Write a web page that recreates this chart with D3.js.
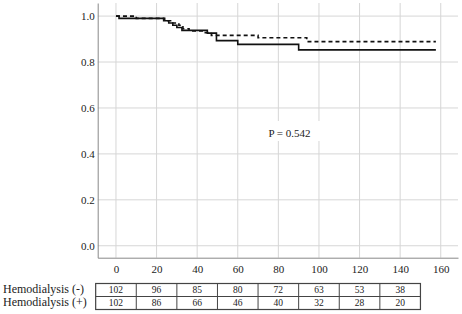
<!DOCTYPE html>
<html>
<head>
<meta charset="utf-8">
<script src="https://cdn.jsdelivr.net/npm/d3@7"></script>
<style>
  body { margin: 0; background: #fff; }
  svg text { font-family: "Times New Roman", "Liberation Serif", "DejaVu Serif", serif !important; fill: #222; }
</style>
</head>
<body>
<div id="chart"></div>
<script>
// Kaplan-Meier steps
const solidTimes = [0, 1.5, 23.5, 26, 28, 30, 32.5, 45, 49.5, 60, 90, 157.6];
const solidSurv  = [1.0, 0.990, 0.980, 0.970, 0.960, 0.950, 0.938, 0.926, 0.893, 0.877, 0.853, 0.853];
const dashedTimes = [0, 10, 24, 28, 31, 33, 36, 44, 47, 70, 94, 157.6];
const dashedSurv  = [1.0, 0.990, 0.980, 0.970, 0.960, 0.945, 0.935, 0.928, 0.916, 0.906, 0.889, 0.889];

const xTicks = [0, 20, 40, 60, 80, 100, 120, 140, 160];
const yTicks = [0, 0.2, 0.4, 0.6, 0.8, 1.0];

// numbers at risk
const riskTimes = [0, 20, 40, 60, 80, 100, 120, 140];
const riskLabels = ['Hemodialysis (-)', 'Hemodialysis (+)'];
const riskMinus = [102, 96, 85, 80, 72, 63, 53, 38];
const riskPlus = [102, 86, 66, 46, 40, 32, 28, 20];
const pText = 'P = 0.542';

const width = 462, height = 314;
const serif = '"Times New Roman", "Liberation Serif", "DejaVu Serif", serif';

const svg = d3.select('#chart').append('svg')
    .attr('width', width)
    .attr('height', height)
    .attr('font-family', serif);

const x = d3.scaleLinear().domain([-9, 168.5]).range([97.7, 458]);
const y = d3.scaleLinear().domain([-0.052, 1.057]).range([257.7, 3]);

// Grid
svg.append('g').selectAll('line')
    .data(xTicks)
    .join('line')
    .attr('x1', d => x(d)).attr('x2', d => x(d))
    .attr('y1', y.range()[1]).attr('y2', y.range()[0])
    .attr('stroke', '#d6d6d6');

svg.append('g').selectAll('line')
    .data(yTicks)
    .join('line')
    .attr('x1', x.range()[0]).attr('x2', x.range()[1])
    .attr('y1', d => y(d)).attr('y2', d => y(d))
    .attr('stroke', '#d6d6d6');

// Axes
const xAxis = svg.append('g')
    .attr('transform', `translate(0,${y.range()[0]})`)
    .call(d3.axisBottom(x).tickValues(xTicks).tickSize(0).tickPadding(8));
const yAxis = svg.append('g')
    .attr('transform', `translate(${x.range()[0]},0)`)
    .call(d3.axisLeft(y).tickValues(yTicks).tickFormat(d3.format('.1f')).tickSize(0).tickPadding(3));

[xAxis, yAxis].forEach(a => {
    a.attr('font-family', serif).attr('font-size', 11);
    a.select('.domain').attr('stroke', '#888');
    a.selectAll('text').attr('fill', '#222');
});

// P value label with white box
const pG = svg.append('g');
pG.append('rect')
    .attr('x', 258).attr('y', 121).attr('width', 63).attr('height', 20)
    .attr('fill', '#fff');
pG.append('text')
    .attr('x', 289.5).attr('y', 137)
    .attr('text-anchor', 'middle')
    .attr('font-size', 11)
    .text(pText);

// Curves
const line = d3.line()
    .x(d => x(d[0]))
    .y(d => y(d[1]))
    .curve(d3.curveStepAfter);

svg.append('path')
    .datum(dashedTimes.map((t, i) => [t, dashedSurv[i]]))
    .attr('d', line)
    .attr('fill', 'none')
    .attr('stroke', '#111')
    .attr('stroke-width', 1.6)
    .attr('stroke-dasharray', '4,3');

svg.append('path')
    .datum(solidTimes.map((t, i) => [t, solidSurv[i]]))
    .attr('d', line)
    .attr('fill', 'none')
    .attr('stroke', '#111')
    .attr('stroke-width', 1.6);

// Risk table
const rowTop = 283.5, rowH = 13;
const table = svg.append('g');
[riskMinus, riskPlus].forEach((row, r) => {
    const ty = rowTop + r * rowH;
    table.append('text')
        .attr('x', 3).attr('y', ty + 9.5)
        .attr('font-size', 12)
        .text(riskLabels[r]);
    table.selectAll(null)
        .data(row)
        .join('text')
        .attr('x', (d, i) => x(riskTimes[i]))
        .attr('y', ty + 9.8)
        .attr('text-anchor', 'middle')
        .attr('font-size', 9.5)
        .text(d => d);
});

const tx0 = x(riskTimes[0] - 10), tx1 = x(riskTimes[riskTimes.length - 1] + 10);
table.append('rect')
    .attr('x', tx0).attr('y', rowTop)
    .attr('width', tx1 - tx0).attr('height', 2 * rowH)
    .attr('fill', 'none').attr('stroke', '#444').attr('stroke-width', 1.2);
table.append('line')
    .attr('x1', tx0).attr('x2', tx1)
    .attr('y1', rowTop + rowH).attr('y2', rowTop + rowH)
    .attr('stroke', '#444');
table.selectAll('.col')
    .data(riskTimes.slice(1))
    .join('line')
    .attr('class', 'col')
    .attr('x1', d => x(d - 10)).attr('x2', d => x(d - 10))
    .attr('y1', rowTop).attr('y2', rowTop + 2 * rowH)
    .attr('stroke', '#444');
</script>
</body>
</html>
